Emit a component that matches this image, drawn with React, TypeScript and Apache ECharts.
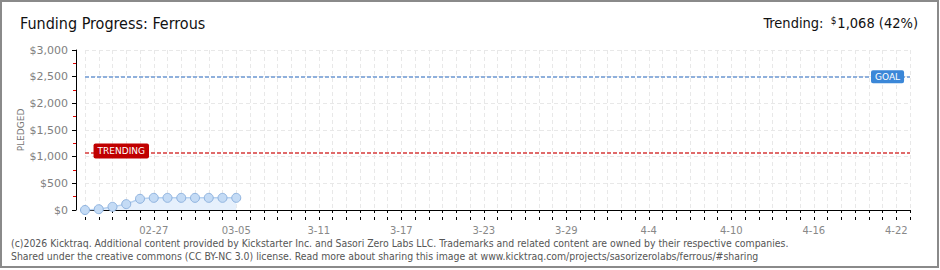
import React, { useEffect, useRef } from "react";
import * as echarts from "echarts";

// ---- data ----
const startDate = [2026, 1, 22]; // Feb 22, 2026
const dayCount = 61; // 02-22 .. 04-23
const tickDates = ["02-27", "03-05", "03-11", "03-17", "03-23", "03-29", "04-04", "04-10", "04-16", "04-22"];
const tickLabels = ["02-27", "03-05", "3-11", "3-17", "3-23", "3-29", "4-4", "4-10", "4-16", "4-22"];
const pledged = [0, 15, 60, 110, 210, 228, 228, 228, 228, 228, 228, 228];
const goal = 2500;
const trending = 1068;
const yTicks = { min: 0, max: 3000, interval: 500 };

const days: string[] = [];
for (let i = 0; i < dayCount; i++) {
  const d = new Date(startDate[0], startDate[1], startDate[2] + i);
  const mm = String(d.getMonth() + 1).padStart(2, "0");
  const dd = String(d.getDate()).padStart(2, "0");
  days.push(`${mm}-${dd}`);
}

const TITLE_FONT = '"DejaVu Sans Condensed", "Liberation Sans Narrow", "DejaVu Sans", sans-serif';
const SMALL_FONT = '"DejaVu Sans", sans-serif';
const FOOT_FONT = '"DejaVu Sans Condensed", "DejaVu Sans", sans-serif';

export default function App() {
  const ref = useRef<HTMLDivElement>(null);
  useEffect(() => {
    const chart = echarts.init(ref.current!, null, { renderer: "svg" });
    const gridDash = { color: "#e8e8e8", type: [4, 3] as any, width: 1 };
    chart.setOption({
      animation: false,
      backgroundColor: "#ffffff",
      title: [
        {
          text: "Funding Progress: Ferrous",
          left: 20,
          top: 15,
          padding: 0,
          textStyle: { fontFamily: TITLE_FONT, fontSize: 16, fontWeight: "normal", color: "#111" },
        },
        {
          text: "{a|Trending: }{s|$}{a|1,068 (42%)}",
          right: 22,
          top: 15,
          padding: 0,
          textStyle: {
            fontWeight: "normal",
            rich: {
              a: { fontFamily: TITLE_FONT, fontSize: 14.5, fontWeight: "normal", color: "#111" },
              s: {
                fontFamily: TITLE_FONT,
                fontSize: 10,
                fontWeight: "normal",
                color: "#111",
                verticalAlign: "top",
                padding: [0, 1, 6, 3],
              },
            },
          },
        },
      ],
      grid: { left: 85, right: 30, top: 50, bottom: 60 },
      xAxis: [
        {
          type: "category",
          data: days,
          boundaryGap: false,
          offset: 10,
          axisLine: { lineStyle: { color: "#000", width: 1 } },
          axisTick: { show: true, interval: 0, length: 3, lineStyle: { color: "#000" } },
          axisLabel: {
            interval: (i: number) => tickDates.indexOf(days[i]) >= 0,
            formatter: (v: string) => {
              const k = tickDates.indexOf(v);
              return k >= 0 ? tickLabels[k] : "";
            },
            color: "#888",
            fontSize: 10,
            fontFamily: SMALL_FONT,
            margin: 5,
          },
          splitLine: { show: true, interval: 0, lineStyle: gridDash },
        },
        {
          type: "category",
          data: days,
          boundaryGap: false,
          position: "bottom",
          offset: 10,
          axisLine: { show: false },
          axisTick: { show: true, inside: true, interval: 0, length: 3, lineStyle: { color: "#000" } },
          axisLabel: { show: false },
          splitLine: { show: false },
        },
      ],
      yAxis: {
        type: "value",
        min: yTicks.min,
        max: yTicks.max,
        interval: yTicks.interval,
        offset: 9,
        name: "PLEDGED",
        nameLocation: "middle",
        nameGap: 51,
        nameMoveOverlap: false,
        nameRotate: 90,
        nameTextStyle: { fontFamily: SMALL_FONT, fontSize: 9, color: "#777" },
        axisLine: { show: true, lineStyle: { color: "#000" } },
        axisTick: { show: true, length: 4, lineStyle: { color: "#000" } },
        minorTick: { show: true, splitNumber: 2, length: 3, lineStyle: { color: "#e00000" } },
        axisLabel: {
          formatter: (v: number) => "$" + v.toLocaleString("en-US"),
          color: "#808080",
          fontSize: 11,
          fontFamily: SMALL_FONT,
          margin: 8,
        },
        splitLine: { show: true, lineStyle: gridDash },
      },
      series: [
        {
          type: "line",
          data: pledged,
          symbol: "circle",
          symbolSize: 9,
          itemStyle: { color: "#c4dbf5", borderColor: "#8fb3df", borderWidth: 1 },
          lineStyle: { color: "#b6d1f0", width: 1.5 },
          areaStyle: { color: "#e6f0fc", opacity: 1 },
          markLine: {
            symbol: "none",
            silent: true,
            data: [
              {
                yAxis: goal,
                lineStyle: { color: "#8fb0dc", width: 2, type: [4, 2] },
                label: {
                  show: true,
                  position: "end",
                  formatter: "GOAL",
                  offset: [-44, 0],
                  color: "#fff",
                  backgroundColor: "#3b87d8",
                  borderRadius: 2,
                  padding: [2, 4],
                  fontFamily: SMALL_FONT,
                  fontSize: 9,
                },
              },
              {
                yAxis: trending,
                lineStyle: { color: "#e06a6a", width: 2, type: [4, 2] },
                label: {
                  show: true,
                  position: "start",
                  formatter: "TRENDING",
                  offset: [69, -2],
                  color: "#fff",
                  backgroundColor: "#c00000",
                  borderRadius: 2,
                  padding: [3, 4],
                  fontFamily: SMALL_FONT,
                  fontSize: 9,
                },
              },
            ],
          },
        },
      ],
      graphic: [
        {
          type: "rect",
          silent: true,
          z: 100,
          shape: { x: 1, y: 1, width: 937, height: 266 },
          style: { fill: "none", stroke: "#8a8a8a", lineWidth: 2 },
        },
        {
          type: "text",
          left: 11,
          top: 238,
          style: {
            text: "(c)2026 Kicktraq. Additional content provided by Kickstarter Inc. and Sasori Zero Labs LLC. Trademarks and related content are owned by their respective companies.",
            fontFamily: FOOT_FONT,
            fontSize: 10.4,
            fill: "#555",
          },
        },
        {
          type: "text",
          left: 11,
          top: 251,
          style: {
            text: "Shared under the creative commons (CC BY-NC 3.0) license. Read more about sharing this image at www.kicktraq.com/projects/sasorizerolabs/ferrous/#sharing",
            fontFamily: FOOT_FONT,
            fontSize: 10.4,
            fill: "#555",
          },
        },
      ],
    });
    return () => chart.dispose();
  }, []);
  return (
    <div
      ref={ref}
      style={{ position: "fixed", left: 0, top: 0, width: 940, height: 270, background: "#fff" }}
    />
  );
}
